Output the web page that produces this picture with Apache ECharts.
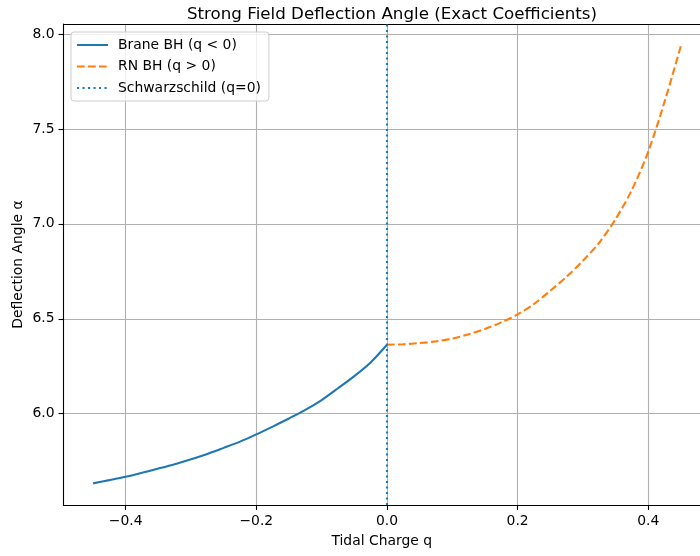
<!DOCTYPE html>
<html>
<head>
<meta charset="utf-8">
<script src="https://cdn.jsdelivr.net/npm/echarts@6/dist/echarts.min.js"></script>
<style>
  html, body { margin: 0; padding: 0; background: #fff; }
  #app { width: 700px; height: 556px; }
</style>
</head>
<body>
<div id="app"></div>
<script>
// tidal charge q and deflection angle
var braneQ = [-0.45, -0.425, -0.4, -0.375, -0.35, -0.325, -0.3, -0.275, -0.25, -0.225,
              -0.2, -0.175, -0.15, -0.125, -0.1, -0.075, -0.05, -0.025, 0];
var braneAlpha = [5.633, 5.650, 5.668, 5.689, 5.711, 5.734, 5.760, 5.788, 5.820, 5.853,
                  5.891, 5.932, 5.975, 6.020, 6.072, 6.134, 6.198, 6.270, 6.363];

var rnQ = [0, 0.025, 0.05, 0.075, 0.1, 0.125, 0.15, 0.175, 0.2, 0.225,
           0.25, 0.275, 0.3, 0.325, 0.35, 0.375, 0.4, 0.425, 0.45];
var rnAlpha = [6.363, 6.366, 6.372, 6.381, 6.396, 6.418, 6.446, 6.481, 6.523, 6.578,
               6.648, 6.722, 6.806, 6.901, 7.025, 7.180, 7.381, 7.644, 7.938];

var schwarzschildQ = 0;

var xTicks = [-0.4, -0.2, 0, 0.2, 0.4];
var yTicks = [6.0, 6.5, 7.0, 7.5, 8.0];

var seriesNames = ['Brane BH (q < 0)', 'RN BH (q > 0)', 'Schwarzschild (q=0)'];

function pairs(xs, ys) {
    return xs.map(function (x, i) { return [x, ys[i]]; });
}

var font = 'DejaVu Sans';
// the original plot is cut off by the window on the right, so x stops at ~0.479
var xMin = -0.4952, xMax = 0.4792;
var yMin = 5.519, yMax = 8.053;

var myChart = echarts.init(document.getElementById('app'));

var option = {
    animation: false,
    backgroundColor: '#fff',
    title: {
        text: 'Strong Field Deflection Angle (Exact Coefficients)',
        left: 387,
        top: 1,
        textAlign: 'center',
        textStyle: { fontFamily: font, fontSize: 16.7, fontWeight: 'normal', color: '#000' }
    },
    legend: {
        orient: 'vertical',
        left: 71,
        top: 32,
        padding: [6, 8, 6, 5],
        itemGap: 7.5,
        itemWidth: 31,
        itemHeight: 14,
        borderColor: '#cccccc',
        borderWidth: 1,
        borderRadius: 3,
        backgroundColor: 'rgba(255,255,255,0.8)',
        itemStyle: { opacity: 0 },
        data: seriesNames,
        textStyle: { fontFamily: font, fontSize: 13.9, color: '#000', padding: [0, 0, 0, 5] }
    },
    grid: {
        left: 63.5,
        top: 24,
        right: 0,
        bottom: 51,
        show: false,
        containLabel: false
    },
    xAxis: [{
        type: 'value',
        min: xMin,
        max: xMax,
        name: 'Tidal Charge q',
        nameLocation: 'middle',
        nameGap: 29,
        nameMoveOverlap: false,
        nameTextStyle: { fontFamily: font, fontSize: 13.9, color: '#000' },
        axisLine: { show: true, onZero: false, lineStyle: { color: '#000', width: 1.1 } },
        axisTick: { show: true, inside: false, length: 5, customValues: xTicks, lineStyle: { color: '#000', width: 1.1 } },
        axisLabel: {
            customValues: xTicks,
            margin: 9,
            fontFamily: font, fontSize: 13.9, color: '#000',
            formatter: function (v) {
                return (v < -1e-9 ? '\u2212' : '') + Math.abs(v).toFixed(1);
            }
        },
        splitLine: { show: true, lineStyle: { color: '#b0b0b0', width: 1.1 } }
    }, {
        // top spine only
        type: 'value',
        position: 'top',
        min: xMin,
        max: xMax,
        axisLine: { show: true, onZero: false, lineStyle: { color: '#000', width: 1.1 } },
        axisTick: { show: false },
        axisLabel: { show: false },
        splitLine: { show: false }
    }],
    yAxis: {
        type: 'value',
        min: yMin,
        max: yMax,
        name: 'Deflection Angle \u03b1',
        nameLocation: 'middle',
        nameGap: 38,
        nameMoveOverlap: false,
        nameTextStyle: { fontFamily: font, fontSize: 13.9, color: '#000' },
        axisLine: { show: true, onZero: false, lineStyle: { color: '#000', width: 1.1 } },
        axisTick: { show: true, inside: false, length: 5, customValues: yTicks, lineStyle: { color: '#000', width: 1.1 } },
        axisLabel: {
            customValues: yTicks,
            margin: 9,
            fontFamily: font, fontSize: 13.9, color: '#000',
            formatter: function (v) { return v.toFixed(1); }
        },
        splitLine: { show: true, lineStyle: { color: '#b0b0b0', width: 1.1 } }
    },
    series: [
        {
            name: seriesNames[0],
            type: 'line',
            data: pairs(braneQ, braneAlpha),
            smooth: 0.3,
            showSymbol: false,
            symbol: 'none',
            color: '#1f77b4',
            lineStyle: { color: '#1f77b4', width: 2.1, type: 'solid' },
            z: 3
        },
        {
            name: seriesNames[1],
            type: 'line',
            data: pairs(rnQ, rnAlpha),
            smooth: 0.3,
            showSymbol: false,
            symbol: 'none',
            color: '#ff7f0e',
            lineStyle: { color: '#ff7f0e', width: 2.1, type: [7.7, 3.3] },
            z: 3
        },
        {
            name: seriesNames[2],
            type: 'line',
            data: [],
            symbol: 'none',
            color: '#1f77b4',
            lineStyle: { color: '#1f77b4', width: 2.1, type: [2.1, 3.4] },
            markLine: {
                silent: true,
                symbol: 'none',
                label: { show: false },
                lineStyle: { color: '#1f77b4', width: 2.1, type: [2.1, 3.4] },
                data: [{ xAxis: schwarzschildQ }]
            },
            z: 4
        }
    ]
};

myChart.setOption(option);
</script>
</body>
</html>
